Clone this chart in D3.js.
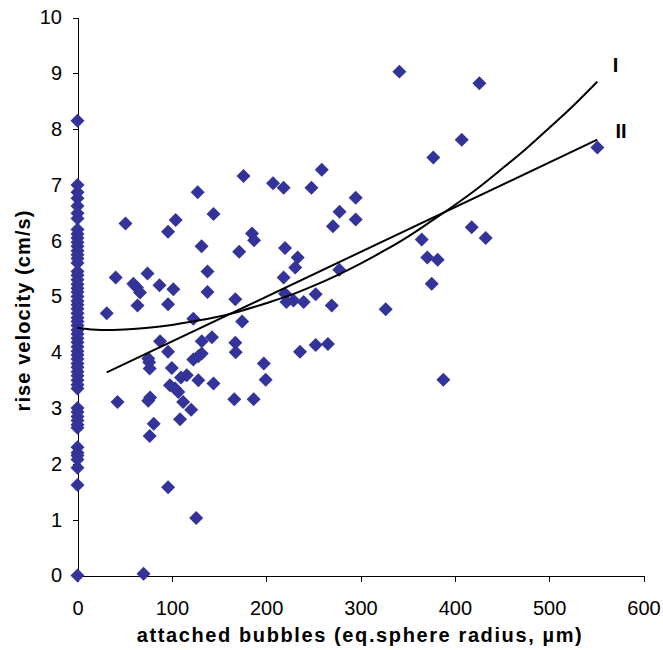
<!DOCTYPE html>
<html>
<head>
<meta charset="utf-8">
<script src="https://cdn.jsdelivr.net/npm/d3@7"></script>
<style>
  html, body { margin: 0; padding: 0; background: #fff; }
  svg { display: block; }
  text { font-family: Arial, "Liberation Sans", sans-serif; fill: #000; }
</style>
</head>
<body>
<svg id="chart" width="663" height="650"></svg>
<script>
// Attached-bubble radius (µm) and measured rise velocity (cm/s) for each particle
const radius = [
  0, 0, 0, 0, 0, 0, 0, 0, 0, 0, 0, 0, 0, 0, 0, 0, 0, 0, 0, 0,
  0, 0, 0, 0, 0, 0, 0, 0, 0, 0, 0, 0, 0, 0, 0, 0, 0, 0, 0, 0,
  0, 0, 0, 0, 0, 0, 0, 0, 0, 0, 0, 0, 0, 0, 0, 0, 0, 0,
  31, 40.5, 42.4, 50.9, 59.2, 63, 66.3, 63.6, 74.2, 70,
  75, 76, 76.5, 75, 77, 80.8, 76.5, 86.9, 87.5, 96,
  96, 96, 96, 98, 100, 101.6, 103.4, 104.1, 106.9, 108.7,
  109.7, 112, 115.8, 120.5, 122.8, 122.8, 125.8, 127.4, 128.1, 128.1,
  131.5, 131.7, 131.7, 137.8, 137.8, 142.5, 144.2, 144.2, 166.2, 167.3,
  167.3, 167.7, 171.4, 174.5, 176, 185, 187.2, 186.7, 197.5, 199.5,
  207.3, 218.5, 218.5, 220, 220, 221.5, 229, 230.8, 233.4, 239.7,
  235.9, 248, 252.5, 252.5, 258.9, 265.5, 269.5, 270.8, 277.8, 277.5,
  294.9, 294.9, 326.7, 341.2, 364.9, 370.8, 375.5, 377.2, 381.8, 387.8,
  407.3, 417.9, 426, 432.7, 551.1
];
const velocity = [
  8.15, 7.0, 6.87, 6.76, 6.62, 6.49, 6.4, 6.2, 6.12, 6.05, 5.97, 5.9, 5.82, 5.75, 5.68, 5.6, 5.45, 5.38, 5.3, 5.22,
  5.15, 5.08, 5.0, 4.92, 4.85, 4.78, 4.7, 4.62, 4.55, 4.48, 4.4, 4.33, 4.25, 4.18, 4.1, 4.02, 3.95, 3.88, 3.8, 3.73,
  3.65, 3.58, 3.5, 3.42, 3.35, 3.0, 2.93, 2.85, 2.78, 2.7, 2.65, 2.3, 2.2, 2.15, 2.08, 1.93, 1.62, 0,
  4.70, 5.34, 3.11, 6.31, 5.23, 5.16, 5.07, 4.84, 5.41, 0.03,
  3.89, 3.82, 3.71, 3.13, 3.19, 2.72, 2.50, 5.20, 4.20, 4.86,
  6.16, 4.01, 1.58, 3.41, 3.72, 5.13, 3.35, 6.37, 3.29, 2.80,
  3.55, 3.11, 3.59, 2.97, 4.60, 3.87, 1.03, 6.87, 3.93, 3.50,
  5.90, 3.98, 4.20, 5.45, 5.08, 4.27, 6.48, 3.44, 3.16, 4.95,
  4.17, 4.00, 5.80, 4.55, 7.16, 6.13, 6.01, 3.16, 3.80, 3.51,
  7.03, 6.95, 5.34, 5.87, 5.05, 4.90, 4.93, 5.52, 5.70, 4.90,
  4.01, 6.95, 5.04, 4.13, 7.27, 4.15, 4.84, 6.26, 6.52, 5.48,
  6.77, 6.38, 4.77, 9.03, 6.02, 5.70, 5.23, 7.49, 5.66, 3.51,
  7.81, 6.24, 8.82, 6.05, 7.67
];

// Fitted curve I (sampled along radius)
const fitIRadius = [0, 25, 50, 75, 100, 125, 150, 175, 200, 225, 250, 275, 300, 325, 350, 375, 400, 425, 450, 475, 500, 525, 551];
const fitIVelocity = [4.44, 4.40, 4.41, 4.44, 4.49, 4.56, 4.64, 4.75, 4.88, 5.02, 5.19, 5.38, 5.59, 5.82, 6.07, 6.35, 6.64, 6.95, 7.29, 7.64, 8.02, 8.41, 8.85];

// Fitted line II (bubble-bearing particles only)
const fitIIRadius = [31, 551];
const fitIIVelocity = [3.64, 7.81];

const xTicks = [0, 100, 200, 300, 400, 500, 600];
const yTicks = [0, 1, 2, 3, 4, 5, 6, 7, 8, 9, 10];

const xTitle = "attached bubbles (eq.sphere radius, \u00b5m)";
const yTitle = "rise velocity (cm/s)";
const curveLabels = ["I", "II"];

const svg = d3.select("#chart");
const W = 663, H = 650;
svg.append("rect").attr("width", W).attr("height", H).attr("fill", "#fff");

const x = d3.scaleLinear().domain([0, 600]).range([77.5, 643.5]);
const y = d3.scaleLinear().domain([0, 10]).range([575.5, 17.5]);

// Axes
const xAxis = svg.append("g")
  .attr("transform", `translate(0,${y(0)})`)
  .call(d3.axisBottom(x).tickValues(xTicks).tickSizeInner(6).tickSizeOuter(0).tickPadding(19.5));
const yAxis = svg.append("g")
  .attr("transform", `translate(${x(0)},0)`)
  .call(d3.axisLeft(y).tickValues(yTicks).tickSizeInner(5).tickSizeOuter(0).tickPadding(10.5));

[xAxis, yAxis].forEach(g => {
  g.selectAll("path, line").attr("stroke", "#000").attr("stroke-width", 1).attr("shape-rendering", "crispEdges");
  g.selectAll("text").attr("font-size", 20).attr("font-family", "Arial, 'Liberation Sans', sans-serif").attr("fill", "#000");
});

// Scatter points: diamonds
const pts = radius.map((r, i) => ({ r, v: velocity[i] }));
const diamond = d3.symbol().type(d3.symbolSquare).size(98);
svg.append("g").selectAll("path")
  .data(pts)
  .join("path")
  .attr("d", diamond)
  .attr("transform", d => `translate(${x(d.r)},${y(d.v)}) rotate(45)`)
  .attr("fill", "#333399");

// Fitted lines
const line = d3.line().x(d => x(d[0])).y(d => y(d[1]));
const fitI = fitIRadius.map((r, i) => [r, fitIVelocity[i]]);
const fitII = fitIIRadius.map((r, i) => [r, fitIIVelocity[i]]);

svg.append("path")
  .attr("d", line.curve(d3.curveMonotoneX)(fitI))
  .attr("fill", "none").attr("stroke", "#000").attr("stroke-width", 2);
svg.append("path")
  .attr("d", d3.line().x(d => x(d[0])).y(d => y(d[1]))(fitII))
  .attr("fill", "none").attr("stroke", "#000").attr("stroke-width", 2);

// Curve labels
svg.append("text").attr("x", 612.7).attr("y", 72.3)
  .attr("font-size", 20).attr("font-weight", "bold").text(curveLabels[0]);
svg.append("text").attr("x", 615.4).attr("y", 138.3)
  .attr("font-size", 20).attr("font-weight", "bold").text(curveLabels[1]);

// Axis titles
svg.append("text")
  .attr("x", 359.2).attr("y", 642.3)
  .attr("text-anchor", "middle")
  .attr("font-size", 20).attr("font-weight", "bold")
  .attr("textLength", 445).attr("lengthAdjust", "spacing")
  .text(xTitle);

svg.append("text")
  .attr("transform", "translate(29.5,311) rotate(-90)")
  .attr("text-anchor", "middle")
  .attr("font-size", 20).attr("font-weight", "bold")
  .attr("textLength", 201).attr("lengthAdjust", "spacing")
  .text(yTitle);
</script>
</body>
</html>
